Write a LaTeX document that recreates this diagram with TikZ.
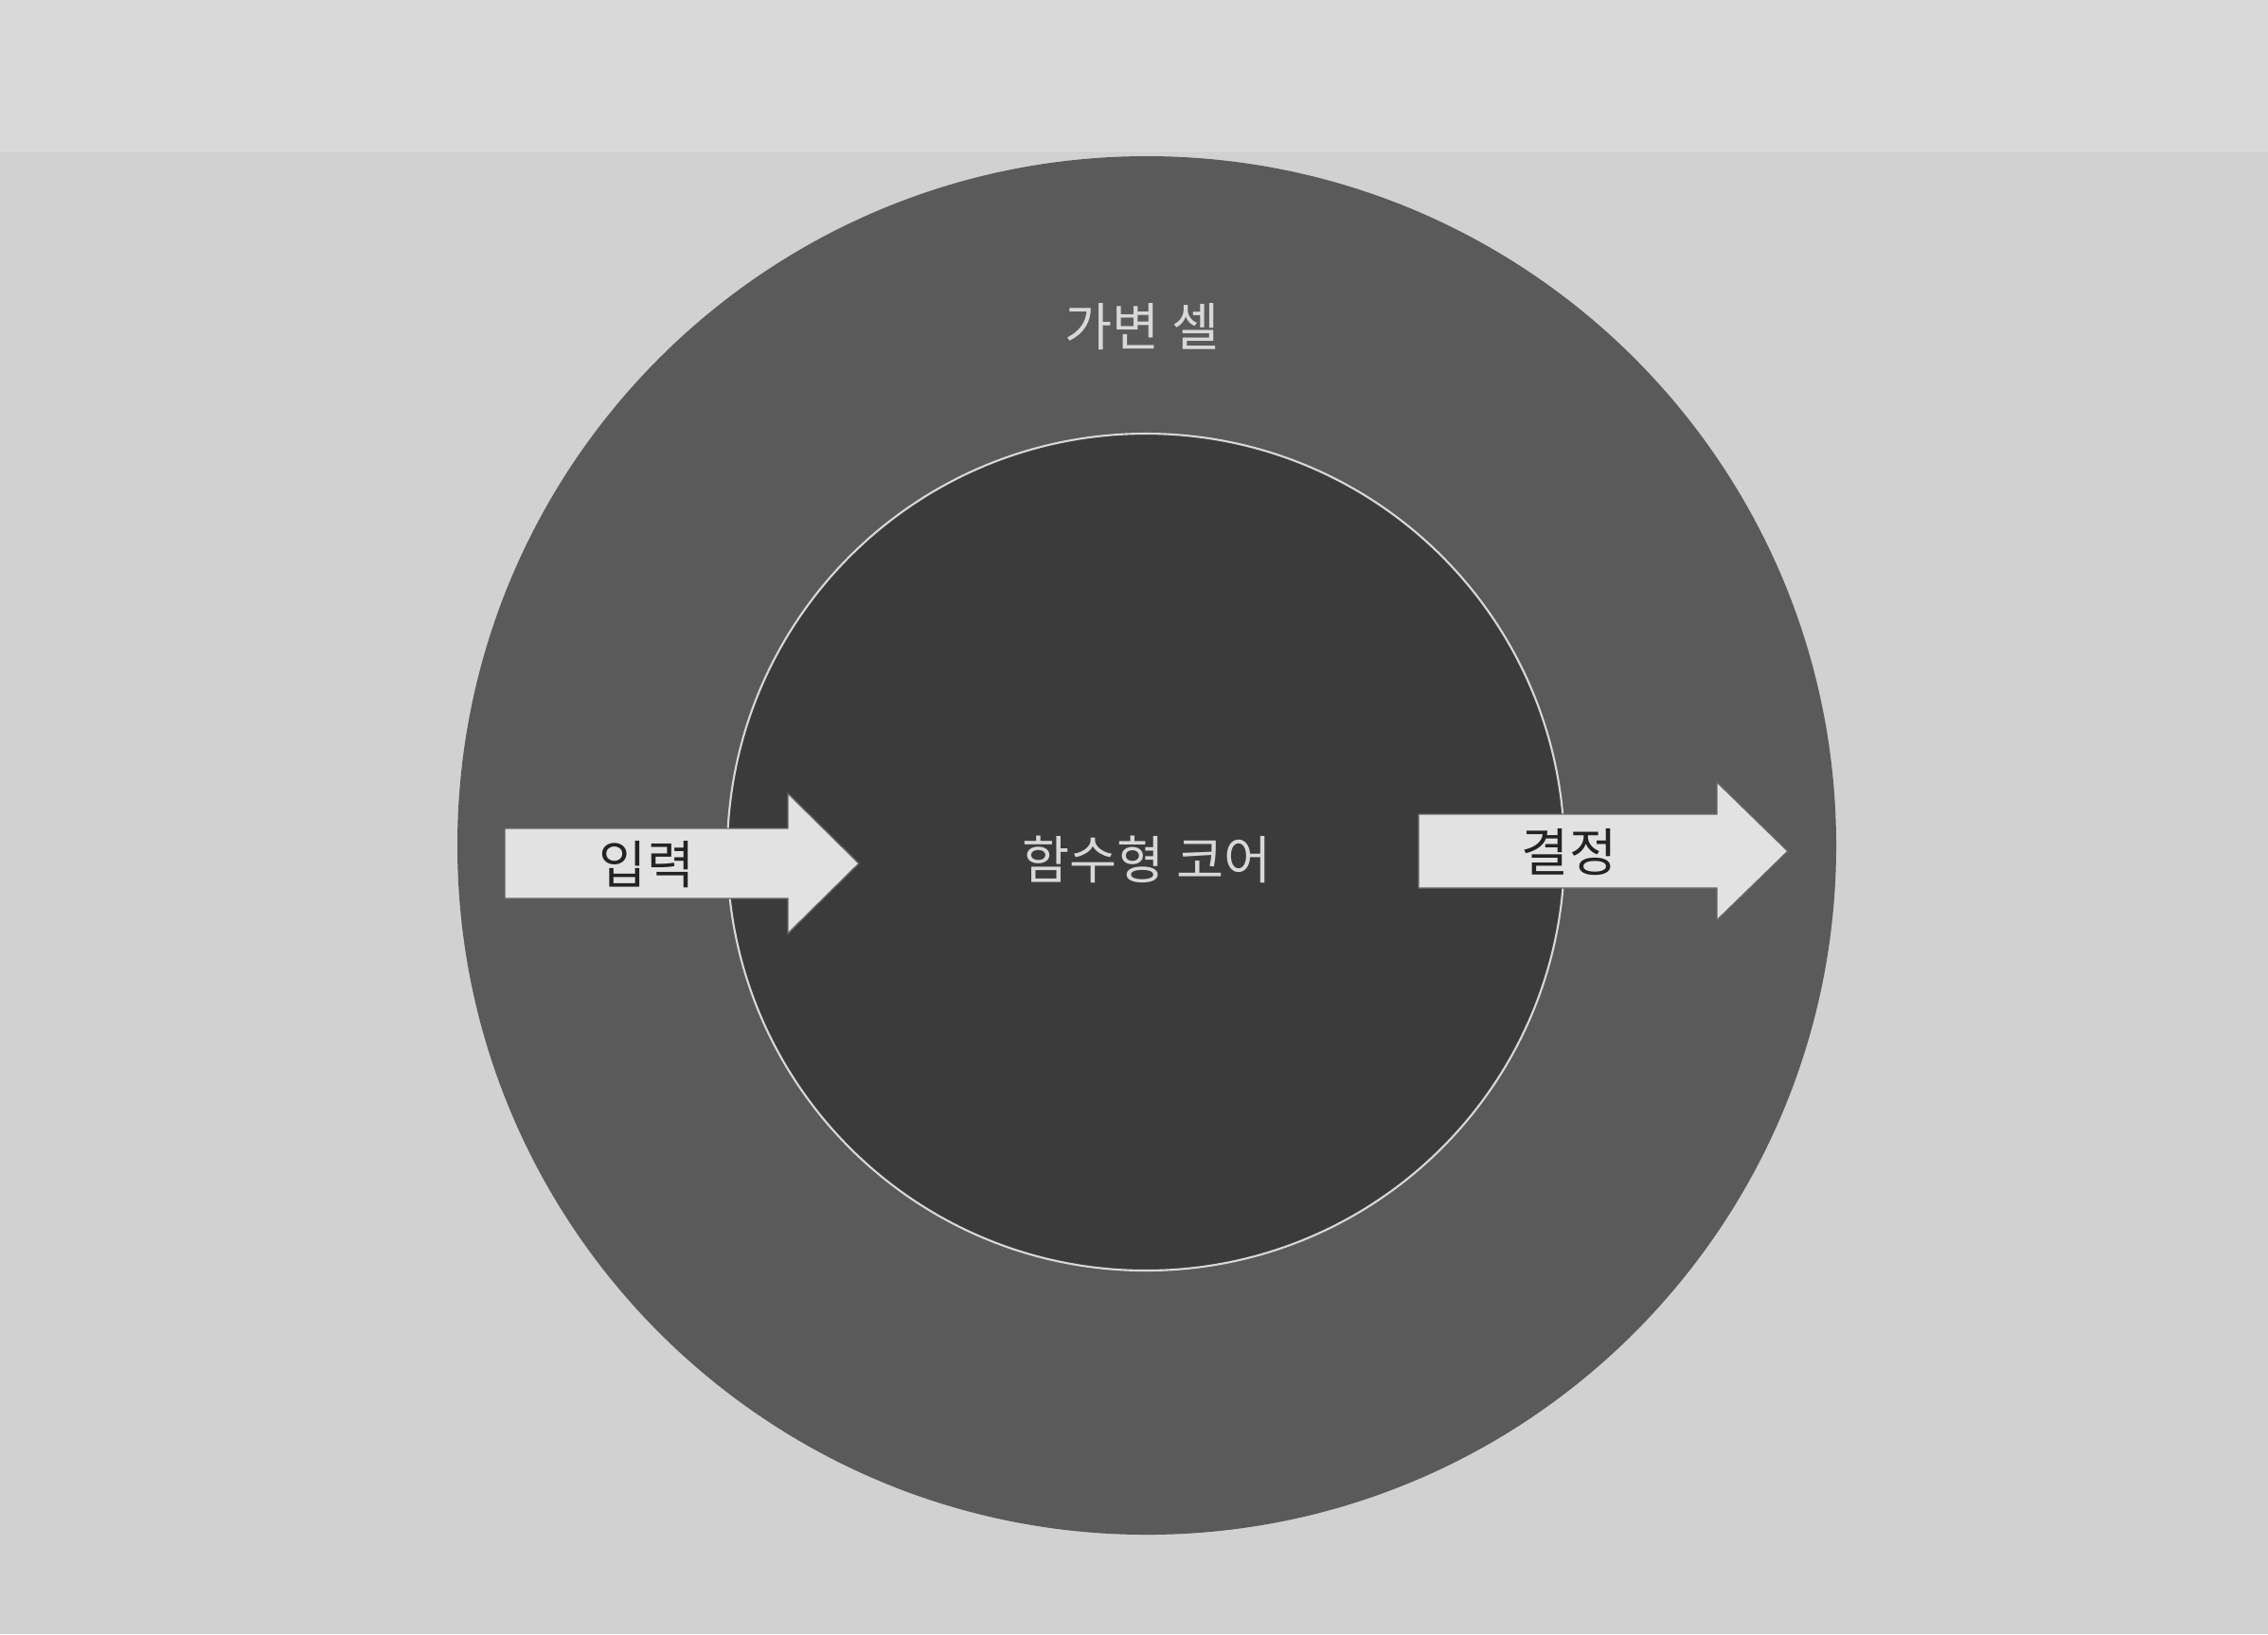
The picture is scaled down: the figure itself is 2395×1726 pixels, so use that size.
\documentclass[tikz,border=0pt]{standalone}
\usepackage{fontspec}
\setmainfont{Noto Sans CJK KR}

\definecolor{paper}{HTML}{D1D1D1}
\definecolor{paperlight}{HTML}{D9D9D9}
\definecolor{shellfill}{HTML}{5A5A5A}
\definecolor{corefill}{HTML}{3B3B3B}
\definecolor{rim}{HTML}{D8D8D8}
\definecolor{arrowfill}{HTML}{E2E2E2}
\definecolor{ink}{HTML}{232323}

\begin{document}
\begin{tikzpicture}[x=0.1mm, y=-0.1mm,
    ringlabel/.style={text=rim, font=\fontsize{15.5}{19}\selectfont, inner sep=0pt},
    arrowlabel/.style={text=ink, font=\fontsize{15.5}{19}\selectfont, inner sep=0pt},
    arrowbody/.style={fill=arrowfill, draw=ink!70, line width=0.4pt}]

    % Page
    \fill[paper] (0,0) rectangle (2395,1726);
    \fill[paperlight] (0,0) rectangle (2395,160);

    % Mutable shell
    \fill[shellfill] (1211,893) circle (728);
    \node[ringlabel] (shell) at (1206,345) {가변 셀};

    % Functional core
    \filldraw[fill=corefill, draw=rim, line width=0.6pt] (1210,900) circle (442);
    \node[ringlabel] (core) at (1211,908) {함수형 코어};

    % Input arrow
    \filldraw[arrowbody] (533,875) -- (832,875) -- (832,838) -- (907,912)
        -- (832,986) -- (832,949) -- (533,949) -- cycle;
    \node[arrowlabel] (input) at (683,913) {입력};

    % Decision arrow
    \filldraw[arrowbody] (1498,860) -- (1813,860) -- (1813,826) -- (1888,899)
        -- (1813,972) -- (1813,938) -- (1498,938) -- cycle;
    \node[arrowlabel] (decision) at (1657,900) {결정};
\end{tikzpicture}
\end{document}
